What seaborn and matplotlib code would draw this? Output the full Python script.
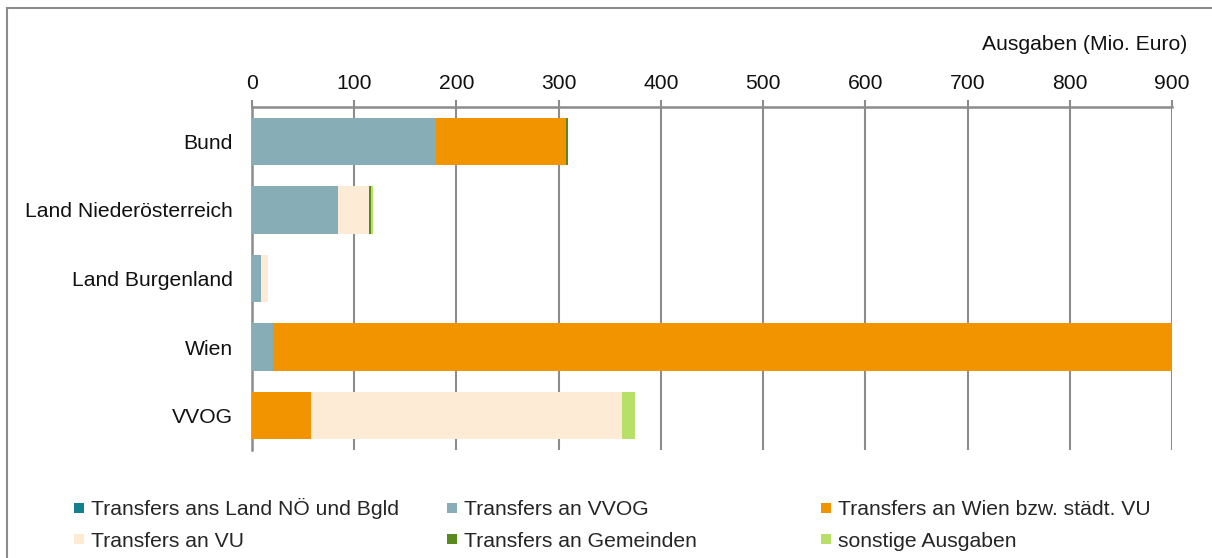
import numpy as np
import pandas as pd
import matplotlib
matplotlib.use("Agg")
import matplotlib.pyplot as plt
from matplotlib.lines import Line2D
from matplotlib.patches import Rectangle
import seaborn as sns

categories = ["Bund", "Land Niederösterreich", "Land Burgenland", "Wien", "VVOG"]
series_names = ["Transfers ans Land NÖ und Bgld", "Transfers an VVOG",
                "Transfers an Wien bzw. städt. VU", "Transfers an VU",
                "Transfers an Gemeinden", "sonstige Ausgaben"]
transfers_land = [0, 0, 0, 0, 0]
transfers_vvog = [180, 84, 9, 21, 0]
transfers_wien = [127, 0, 0, 879, 58]
transfers_vu = [0, 30.7, 7, 0, 304]
transfers_gemeinden = [2, 1.3, 0, 0, 0]
sonstige = [0, 2, 0, 0, 12.5]
colors = ["#13808d", "#87adb7", "#f29400", "#fdebd5", "#5a8a1e", "#b8e068"]
xticks = [0, 100, 200, 300, 400, 500, 600, 700, 800, 900]

sns.set_theme(style="white")
plt.rcParams["font.family"] = ["Liberation Sans", "DejaVu Sans"]
FS = 15.2

fig = plt.figure(figsize=(12.12, 5.58), dpi=100)
ax = fig.add_axes([252/1212, 108/558, 920/1212, 343/558])

data = np.array([transfers_land, transfers_vvog, transfers_wien,
                 transfers_vu, transfers_gemeinden, sonstige], dtype=float)
cum = np.cumsum(data, axis=0)

for i in range(len(series_names) - 1, -1, -1):
    df = pd.DataFrame({"cat": categories, "val": cum[i]})
    sns.barplot(data=df, x="val", y="cat", orient="h", color=colors[i],
                saturation=1, width=0.69, errorbar=None, linewidth=0, ax=ax,
                zorder=3)

ax.set_xlim(0, 900)
ax.set_ylim(4.5, -0.5)
ax.set_xlabel("")
ax.set_ylabel("")
ax.xaxis.tick_top()
ax.set_xticks(xticks)
ax.set_xticklabels([str(t) for t in xticks], fontsize=FS, color="#111111")
ax.tick_params(axis="x", which="major", length=5, width=1.5, color="#8c8c8c",
               direction="out", pad=5)
ax.set_yticks(range(len(categories)))
ax.set_yticklabels(categories, fontsize=FS, color="#111111")
ax.set_yticks(np.arange(-0.5, 5.0, 1.0), minor=True)
ax.tick_params(axis="y", which="major", length=0, pad=14)
ax.tick_params(axis="y", which="minor", length=5, width=1.5, color="#8c8c8c",
               direction="out")
ax.grid(axis="x", color="#8c8c8c", linewidth=1.5, zorder=0)
ax.set_axisbelow(True)
for s in ["right", "bottom"]:
    ax.spines[s].set_visible(False)
for s in ["top", "left"]:
    ax.spines[s].set_color("#8c8c8c")
    ax.spines[s].set_linewidth(1.8)

fig.text(1187/1212, 1 - 45/558, "Ausgaben (Mio. Euro)", ha="right",
         va="center", fontsize=FS, color="#111111")

# Legend: three columns, two rows each
col_x = [74/1212, 447/1212, 821/1212]
LEG_Y = 1 - 500/558
legends = []
for c in range(3):
    idxs = [c, c + 3]
    handles = [Line2D([], [], marker="s", linestyle="none", markersize=7.8,
                      markerfacecolor=colors[k], markeredgewidth=0)
               for k in idxs]
    labels = [series_names[k] for k in idxs]
    leg = fig.legend(handles, labels, loc="upper left",
                     bbox_to_anchor=(col_x[c], LEG_Y), frameon=False,
                     fontsize=FS, handlelength=0.5, handletextpad=0.3,
                     labelspacing=0.6, borderpad=0, borderaxespad=0)
    legends.append(leg)

# align rows: compensate taller first label (accented capital) in column 1
fig.canvas.draw()
r = fig.canvas.get_renderer()
h0 = legends[0].get_texts()[0].get_window_extent(r).height
h1 = legends[1].get_texts()[0].get_window_extent(r).height
delta = (h0 - h1) / 558
legends[0].set_bbox_to_anchor((col_x[0], LEG_Y + delta), transform=fig.transFigure)

fig.patches.append(Rectangle((7/1212, -0.1), 1.2, 1 - 8/558 + 0.1,
                             transform=fig.transFigure, fill=False,
                             edgecolor="#8c8c8c", linewidth=1.5))

fig.savefig("out.png", dpi=100)
